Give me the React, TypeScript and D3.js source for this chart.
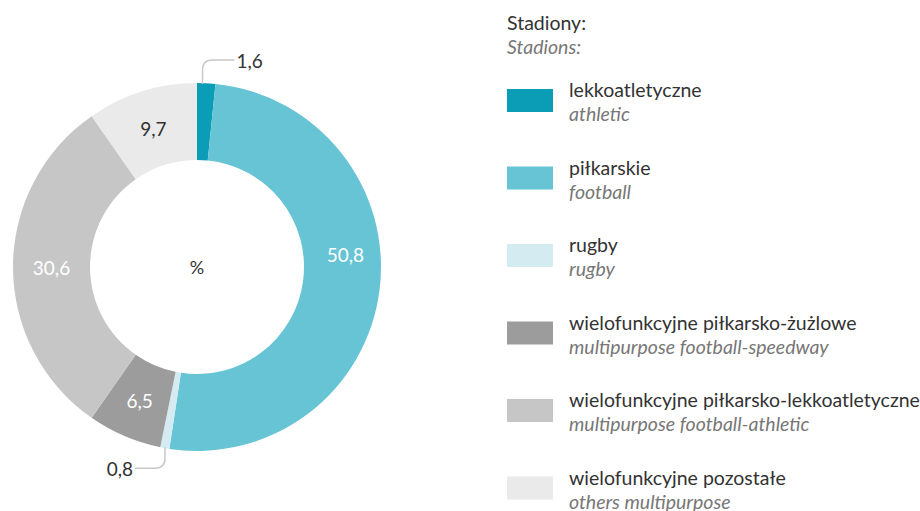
import React from "react";
import * as d3 from "d3";

// stadium types, share in %
const categoriesPl = [
  "lekkoatletyczne",
  "piłkarskie",
  "rugby",
  "wielofunkcyjne piłkarsko-żużlowe",
  "wielofunkcyjne piłkarsko-lekkoatletyczne",
  "wielofunkcyjne pozostałe",
];
const categoriesEn = [
  "athletic",
  "football",
  "rugby",
  "multipurpose football-speedway",
  "multipurpose football-athletic",
  "others multipurpose",
];
const values = [1.6, 50.8, 0.8, 6.5, 30.6, 9.7];
const colors = ["#0a9db5", "#67c4d5", "#d4ebf2", "#9c9c9c", "#c6c6c6", "#eaeaea"];
const labelColors = ["#333", "#fff", "#333", "#fff", "#fff", "#333"];

const W = 920;
const H = 511;
const cx = 197;
const cy = 267;
const outerR = 184;
const innerR = 107;
const font = "Lato, 'Noto Sans', sans-serif";

const fmt = (v: number) => String(v).replace(".", ",");

export default function App() {
  const pie = d3
    .pie<number>()
    .value((d) => d)
    .sort(null);
  const arcs = pie(values);
  const arc = d3.arc<d3.PieArcDatum<number>>().innerRadius(innerR).outerRadius(outerR);
  const midR = (innerR + outerR) / 2;

  // small segments get an outside label with a leader line
  const outside = [0, 2];
  // the 50,8 label sits a bit higher than the centroid
  const shift: Record<number, [number, number]> = { 1: [4, -31] };

  const legendY = d3.scaleLinear().domain([0, 1]).range([97, 174.5]);

  return (
    <div style={{ position: "absolute", left: 0, top: 0 }}>
      <svg width={W} height={H} style={{ display: "block", fontFamily: font }}>
        <g transform={`translate(${cx},${cy})`}>
          {arcs.map((a, i) => (
            <path key={i} d={arc(a) || ""} fill={colors[i]} />
          ))}
          {arcs.map((a, i) => {
            if (outside.includes(i)) return null;
            const ang = (a.startAngle + a.endAngle) / 2;
            const [dx, dy] = shift[i] || [0, 0];
            return (
              <text
                key={i}
                x={Math.sin(ang) * midR + dx}
                y={-Math.cos(ang) * midR + dy}
                textAnchor="middle"
                dominantBaseline="central"
                fontSize={19}
                fill={labelColors[i]}
              >
                {fmt(values[i])}
              </text>
            );
          })}
          {outside.map((i) => {
            const a = arcs[i];
            const up = i === 0;
            const ang = up
              ? a.startAngle + (a.endAngle - a.startAngle) * 0.3
              : (a.startAngle + a.endAngle) / 2;
            const x0 = Math.sin(ang) * (outerR - 1);
            const y0 = -Math.cos(ang) * (outerR - 1);
            const yEnd = up ? y0 - 24 : y0 + 21;
            const xEnd = up ? x0 + 32 : x0 - 30;
            const r = 10;
            const dir = up ? 1 : -1;
            const d = up
              ? `M${x0},${y0} V${yEnd + r} Q${x0},${yEnd} ${x0 + r},${yEnd} H${xEnd}`
              : `M${x0},${y0} V${yEnd - r} Q${x0},${yEnd} ${x0 - r},${yEnd} H${xEnd}`;
            return (
              <g key={i}>
                <path d={d} fill="none" stroke="#c8c8c8" strokeWidth={1.5} />
                <text
                  x={xEnd + dir * 2}
                  y={yEnd}
                  textAnchor={up ? "start" : "end"}
                  dominantBaseline="central"
                  fontSize={19}
                  fill="#333"
                >
                  {fmt(values[i])}
                </text>
              </g>
            );
          })}
          <text x={0} y={0} textAnchor="middle" dominantBaseline="central" fontSize={18} fill="#333">
            %
          </text>
        </g>

        <g>
          <text x={507} y={30} fontSize={19.5} fill="#333">
            Stadiony:
          </text>
          <text x={507} y={54} fontSize={19.5} fill="#777" fontStyle="italic">
            Stadions:
          </text>
          {categoriesPl.map((c, i) => {
            const y = legendY(i);
            return (
              <g key={i}>
                <rect x={507} y={y - 8} width={46} height={23} fill={colors[i]} />
                <text x={569} y={y} fontSize={19.5} fill="#333">
                  {c}
                </text>
                <text x={569} y={y + 24} fontSize={19.5} fill="#777" fontStyle="italic">
                  {categoriesEn[i]}
                </text>
              </g>
            );
          })}
        </g>
      </svg>
    </div>
  );
}
